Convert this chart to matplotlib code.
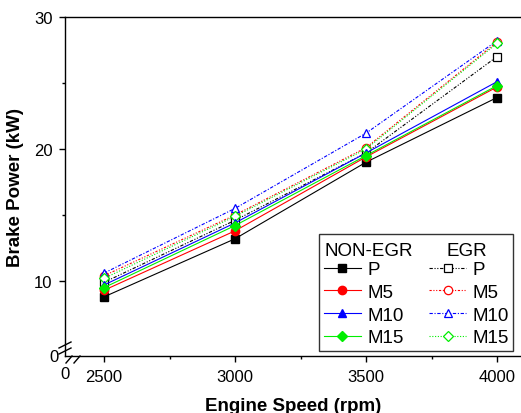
import matplotlib.pyplot as plt
from matplotlib.lines import Line2D

plt.rcParams['font.family'] = ['Liberation Sans', 'DejaVu Sans']

speed = [2500, 3000, 3500, 4000]
fuels = ['P', 'M5', 'M10', 'M15']
colors = ['black', 'red', 'blue', '#00ee00']
markers = ['s', 'o', '^', 'D']

# brake power (kW), without EGR
non_egr = {
    'P':   [8.8, 13.2, 19.0, 23.9],
    'M5':  [9.3, 13.8, 19.4, 24.7],
    'M10': [9.7, 14.4, 19.7, 25.1],
    'M15': [9.5, 14.2, 19.5, 24.8],
}
# brake power (kW), with EGR
egr = {
    'P':   [9.9, 14.6, 19.7, 27.0],
    'M5':  [10.4, 15.0, 20.1, 28.1],
    'M10': [10.6, 15.5, 21.2, 28.2],
    'M15': [10.2, 14.9, 20.0, 28.0],
}
egr_styles = [(0, (3, 1.5, 1, 1.5, 1, 1.5)), (0, (2, 1.5, 1, 1.5, 1, 1.5)),
              (0, (3, 1.5, 1, 1.5)), (0, (1, 1.5))]

fig = plt.figure(figsize=(5.21, 4.14), dpi=100)
ax = fig.add_axes([65/521, 1-357/414, 456/521, 339/414])

h_non, h_egr = [], []
for f, c, m, ls in zip(fuels, colors, markers, egr_styles):
    l2, = ax.plot(speed, egr[f], color=c, linestyle=ls, linewidth=0.8,
                  marker=m, markersize=6 if m != 'D' else 5.5, markerfacecolor='white',
                  markeredgecolor=c, markeredgewidth=0.9)
    h_egr.append(l2)
for f, c, m in zip(fuels, colors, markers):
    l1, = ax.plot(speed, non_egr[f], color=c, linestyle='-', linewidth=0.8,
                  marker=m, markersize=6 if m != 'D' else 5.5, markerfacecolor=c,
                  markeredgecolor=c)
    h_non.append(l1)

x0, x1 = 2351, 4091.5
y0, y1 = 4.32, 30
ax.set_xlim(x0, x1)
ax.set_ylim(y0, y1)
ax.set_xticks(speed)
ax.set_xticks([2750, 3250, 3750], minor=True)
ax.set_yticks([10, 20, 30])
ax.set_yticks([15, 25], minor=True)
ax.tick_params(which='both', direction='out', labelsize=12, width=1)
ax.tick_params(which='major', length=4, pad=5)
ax.tick_params(which='minor', length=2.5)
ax.spines['right'].set_visible(False)
for s in ['left', 'bottom', 'top']:
    ax.spines[s].set_linewidth(1.0)

ax.text(-0.015, 0.0, '0', transform=ax.transAxes, ha='right', va='center', fontsize=12)
ax.text(0.0, -0.03, '0', transform=ax.transAxes, ha='center', va='top', fontsize=12)

# axis break marks
W, H = 456, 339
kw = dict(transform=ax.transAxes, color='black', linewidth=1, clip_on=False)
for dy in [11, 5]:
    ax.add_line(Line2D([-6/W, 6/W], [(dy - 3)/H, (dy + 3)/H], **kw))
for dx in [4, 12]:
    ax.add_line(Line2D([(dx - 3)/W, (dx + 3)/W], [-7/H, 0/H], **kw))

ax.set_xlabel('Engine Speed (rpm)', fontsize=13.5, fontweight='bold', labelpad=10)
ax.set_ylabel('Brake Power (kW)', fontsize=13.5, fontweight='bold', labelpad=7)

blank = Line2D([], [], linestyle='none')
handles = [blank] + h_non + [blank] + h_egr
labels = ['M15'] + fuels + ['M15'] + fuels
leg = ax.legend(handles, labels, ncol=2, loc='lower left',
                bbox_to_anchor=((319 - 65)/W, 5/H), fontsize=13.5, frameon=True,
                fancybox=False, edgecolor='black', handlelength=2.0,
                handletextpad=0.32, columnspacing=1.35, labelspacing=0.3,
                borderpad=0.25, borderaxespad=0)
leg.get_frame().set_linewidth(1.0)
texts = leg.get_texts()
texts[0].set_alpha(0)
texts[5].set_alpha(0)
ax.text((325 - 65)/W, (357 - 251)/H, 'NON-EGR', transform=ax.transAxes,
        fontsize=13.5, va='center', zorder=10)
ax.text((447 - 65)/W, (357 - 251)/H, 'EGR', transform=ax.transAxes,
        fontsize=13.5, va='center', zorder=10)

fig.savefig('out.png', dpi=100)
